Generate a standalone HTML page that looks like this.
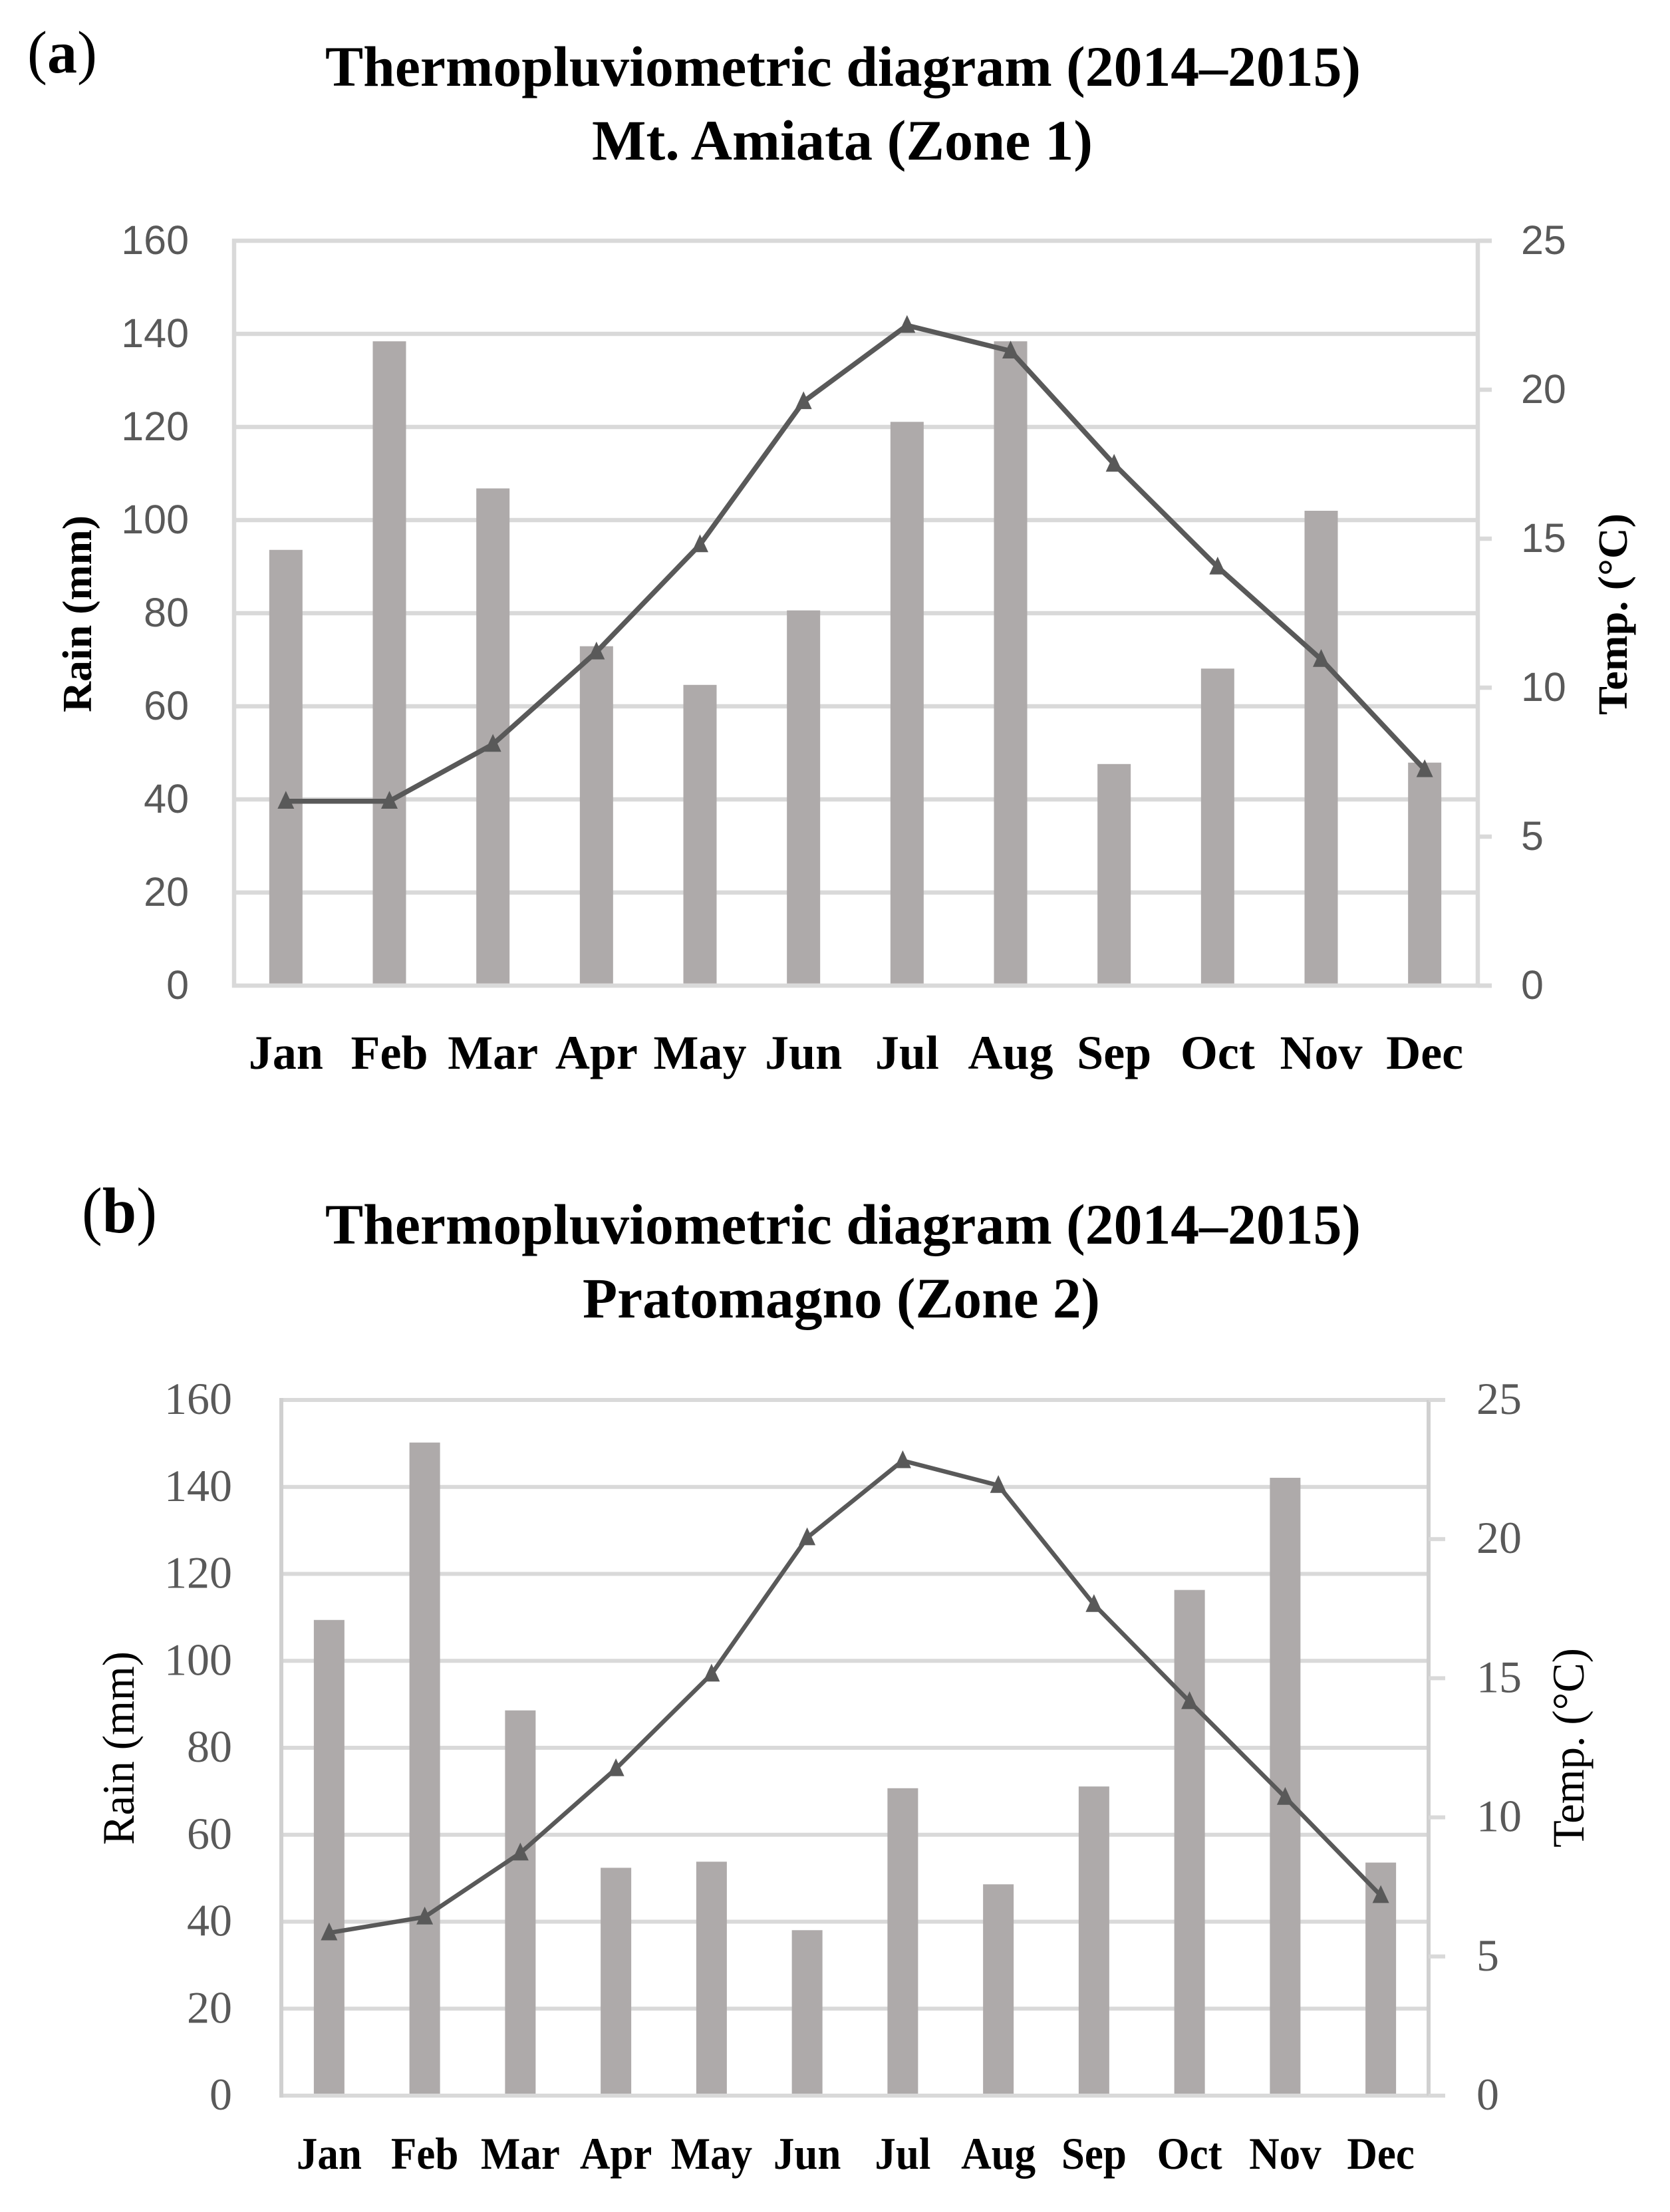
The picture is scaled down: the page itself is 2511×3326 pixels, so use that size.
<!DOCTYPE html>
<html lang="en">
<head>
<meta charset="utf-8">
<title>Thermopluviometric diagrams</title>
<style>
html,body{margin:0;padding:0;background:#fff;}
svg{display:block;}
.serif{font-family:"Liberation Serif",serif;fill:#000;}
.b{font-weight:bold;}
</style>
</head>
<body>
<svg id="fig" xmlns="http://www.w3.org/2000/svg" width="2511" height="3326" viewBox="0 0 2511 3326">
  <rect x="0" y="0" width="2511" height="3326" fill="#ffffff"/>

  <text class="serif" x="41" y="109" font-size="90">(<tspan class="b">a</tspan>)</text>
  <text class="serif b" x="489" y="129" font-size="86" textLength="1557" lengthAdjust="spacingAndGlyphs">Thermopluviometric diagram (2014–2015)</text>
  <text class="serif b" x="890" y="240" font-size="86" textLength="753" lengthAdjust="spacingAndGlyphs">Mt. Amiata (Zone 1)</text>
  <text class="serif b" x="0" y="0" font-size="62" textLength="296" lengthAdjust="spacingAndGlyphs" transform="translate(137 1071) rotate(-90)">Rain (mm)</text>
  <text class="serif b" x="0" y="0" font-size="62" textLength="303" lengthAdjust="spacingAndGlyphs" transform="translate(2446 1075) rotate(-90)">Temp. (°C)</text>
  <g id="chart-a"></g>

  <text class="serif" x="123" y="1853" font-size="98" textLength="113" lengthAdjust="spacingAndGlyphs">(<tspan class="b">b</tspan>)</text>
  <text class="serif b" x="489" y="1870" font-size="86" textLength="1557" lengthAdjust="spacingAndGlyphs">Thermopluviometric diagram (2014–2015)</text>
  <text class="serif b" x="876" y="1981" font-size="86" textLength="778" lengthAdjust="spacingAndGlyphs">Pratomagno (Zone 2)</text>
  <text class="serif" x="0" y="0" font-size="68" textLength="291" lengthAdjust="spacingAndGlyphs" transform="translate(201 2774) rotate(-90)">Rain (mm)</text>
  <text class="serif" x="0" y="0" font-size="68" textLength="300" lengthAdjust="spacingAndGlyphs" transform="translate(2381 2778) rotate(-90)">Temp. (°C)</text>
  <g id="chart-b"></g>
</svg>

<script>
const months = ["Jan","Feb","Mar","Apr","May","Jun","Jul","Aug","Sep","Oct","Nov","Dec"];
const rainTicks = [0,20,40,60,80,100,120,140,160];
const tempTicks = [0,5,10,15,20,25];

const rainA = [93.6,138.4,106.8,72.9,64.6,80.6,121.1,138.4,47.6,68.1,102,47.9];
const tempA = [6.19,6.19,8.1,11.2,14.8,19.6,22.16,21.3,17.5,14.05,10.95,7.25];

const rainB = [109.4,150.2,88.6,52.4,53.8,38.05,70.7,48.6,71.1,116.3,142.1,53.6];
const tempB = [5.85,6.42,8.72,11.75,15.15,20.05,22.82,21.93,17.65,14.16,10.72,7.19];

const NS = "http://www.w3.org/2000/svg";

function make(parent, tag, attrs, text) {
  const el = document.createElementNS(NS, tag);
  for (const k in attrs) el.setAttribute(k, attrs[k]);
  if (text !== undefined) el.textContent = text;
  parent.appendChild(el);
  return el;
}

function drawChart(root, id, rain, temp, g) {
  const xBand = (g.bandRight - g.left) / months.length;
  const xAt = i => g.left + xBand * (i + 0.5);
  const yRain = v => g.bottom - (g.bottom - g.top) * v / rainTicks[rainTicks.length - 1];
  const yTemp = v => g.bottom - (g.bottom - g.top) * v / tempTicks[tempTicks.length - 1];
  const gridColor = "#d9d9d9";

  rainTicks.forEach(t => {
    const y = yRain(t);
    const atEdge = t === rainTicks[0] || t === rainTicks[rainTicks.length - 1];
    const grid = make(root, "line", {x1: g.left - 3, x2: atEdge ? g.tickEnd : g.right, y1: y, y2: y, stroke: gridColor, "stroke-width": g.gridW});
    
    
    const lab = make(root, "text", {x: g.leftLabelX, y: y + g.labelDy, "text-anchor": "end", "font-family": g.tickFont, "font-size": g.tickSize, fill: "#595959"}, String(t));
    
    
  });

  const leftAxis = make(root, "line", {x1: g.left, x2: g.left, y1: g.top - 3, y2: g.bottom + 3, stroke: g.axisColor, "stroke-width": g.gridW});
  
  
  const rightAxis = make(root, "line", {x1: g.right, x2: g.right, y1: g.top, y2: g.bottom, stroke: g.axisColor, "stroke-width": g.gridW});
  
  

  tempTicks.forEach(t => {
    const y = yTemp(t);
    const tick = make(root, "line", {x1: g.right, x2: g.tickEnd, y1: y, y2: y, stroke: gridColor, "stroke-width": g.gridW});
    
    
    const lab = make(root, "text", {x: g.rightLabelX, y: y + g.labelDy, "font-family": g.tickFont, "font-size": g.tickSize, fill: "#595959"}, String(t));
    
    
  });

  rain.forEach((v, i) => {
    const bar = make(root, "rect", {x: xAt(i) - g.barW / 2, y: yRain(v), width: g.barW, height: g.bottom - g.gridW / 2 - yRain(v), fill: "#aeaaaa"});
    
    
  });

  const line = make(root, "polyline", {points: temp.map((v, i) => xAt(i) + "," + yTemp(v)).join(" "), fill: "none", stroke: "#595959", "stroke-width": g.lineW, "stroke-linejoin": "round"});
  
  

  temp.forEach((v, i) => {
    const x = xAt(i), y = yTemp(v), s = g.marker;
    const tri = make(root, "polygon", {points: x + "," + (y - s * 0.62) + " " + (x + s / 2) + "," + (y + s * 0.45) + " " + (x - s / 2) + "," + (y + s * 0.45), fill: "#595959"});
    
    
  });

  months.forEach((m, i) => {
    const lab = make(root, "text", {"text-anchor": "middle", "font-family": '"Liberation Serif", serif', "font-weight": "bold", "font-size": g.monthSize, fill: "#000", transform: "translate(" + xAt(i) + " " + g.monthY + ") scale(1 " + g.monthStretch + ")"}, m);
    
    
  });
}

drawChart(document.getElementById("chart-a"), "chart-a", rainA, tempA, {
  left: 352, right: 2222, bandRight: 2220, top: 362, bottom: 1482, tickEnd: 2243,
  gridW: 6.5, axisColor: "#d9d9d9", barW: 50, lineW: 7.5, marker: 25,
  leftLabelX: 284, rightLabelX: 2287, labelDy: 20,
  tickFont: '"Liberation Sans", sans-serif', tickSize: 61,
  monthY: 1607, monthSize: 72, monthStretch: 1
});
drawChart(document.getElementById("chart-b"), "chart-b", rainB, tempB, {
  left: 423, right: 2148, bandRight: 2148, top: 2105, bottom: 3151, tickEnd: 2173,
  gridW: 6, axisColor: "#d0d0d0", barW: 46, lineW: 6.5, marker: 25,
  leftLabelX: 349, rightLabelX: 2220, labelDy: 21,
  tickFont: '"Liberation Serif", serif', tickSize: 68,
  monthY: 3261, monthSize: 63, monthStretch: 1.07
});
</script>
</body>
</html>
